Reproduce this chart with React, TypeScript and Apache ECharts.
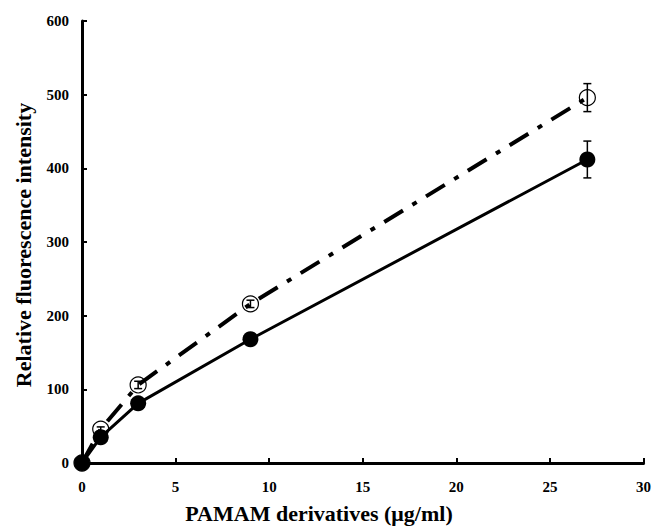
import React, { useEffect, useRef } from "react";
import * as echarts from "echarts";

const concentrations = [0, 1, 3, 9, 27];
const filledValues = [0, 35, 81, 168, 412];
const filledErrors = [0, 3, 3, 3, 25];
const openValues = [0, 46, 106, 216, 496];
const openErrors = [0, 3, 5, 5, 19];
const xTicks = [0, 5, 10, 15, 20, 25, 30];
const yTicks = [0, 100, 200, 300, 400, 500, 600];
const xTitle = "PAMAM derivatives (μg/ml)";
const yTitle = "Relative fluorescence intensity";

const FONT = "'Liberation Serif', 'Times New Roman', serif";

function errorSeries(values: number[], errors: number[], z: number) {
  const data = concentrations.map((x, i) => [x, values[i] - errors[i], values[i] + errors[i]]);
  return {
    type: "custom",
    z,
    silent: true,
    data,
    renderItem: (params: any, api: any) => {
      if (api.value(2) - api.value(1) <= 0) return null;
      const lo = api.coord([api.value(0), api.value(1)]);
      const hi = api.coord([api.value(0), api.value(2)]);
      const w = 4;
      const style = { stroke: "#000", lineWidth: 1.5, fill: "none" };
      return {
        type: "group",
        children: [
          { type: "line", shape: { x1: lo[0], y1: lo[1], x2: hi[0], y2: hi[1] }, style },
          { type: "line", shape: { x1: lo[0] - w, y1: lo[1], x2: lo[0] + w, y2: lo[1] }, style },
          { type: "line", shape: { x1: hi[0] - w, y1: hi[1], x2: hi[0] + w, y2: hi[1] }, style },
        ],
      };
    },
  };
}

export default function App() {
  const ref = useRef<HTMLDivElement>(null);
  useEffect(() => {
    if (!ref.current) return;
    const chart = echarts.init(ref.current, null, { renderer: "svg" });
    const labelStyle = { color: "#000", fontFamily: FONT, fontWeight: "bold" as const, fontSize: 15 };
    const titleStyle = { fill: "#000", fontFamily: FONT, fontWeight: "bold", fontSize: 22 };
    chart.setOption({
      animation: false,
      backgroundColor: "#fff",
      grid: { left: 82, top: 21, right: 7, bottom: 64, containLabel: false },
      graphic: [
        {
          type: "text",
          x: 319,
          y: 513,
          style: { ...titleStyle, text: xTitle, align: "center", verticalAlign: "middle" },
        },
        {
          type: "text",
          x: 23,
          y: 245,
          rotation: Math.PI / 2,
          style: { ...titleStyle, text: yTitle, align: "center", verticalAlign: "middle" },
        },
      ],
      xAxis: {
        type: "value",
        min: xTicks[0],
        max: xTicks[xTicks.length - 1],
        interval: 5,
        axisLine: { show: true, lineStyle: { color: "#000", width: 3 } },
        axisTick: { show: true, inside: true, length: 5, lineStyle: { color: "#000", width: 2 } },
        axisLabel: { ...labelStyle, margin: 16 },
        splitLine: { show: false },
      },
      yAxis: {
        type: "value",
        min: yTicks[0],
        max: yTicks[yTicks.length - 1],
        interval: 100,
        axisLine: { show: true, lineStyle: { color: "#000", width: 3 } },
        axisTick: { show: true, inside: true, length: 5, lineStyle: { color: "#000", width: 2 } },
        axisLabel: { ...labelStyle, margin: 13 },
        splitLine: { show: false },
      },
      series: [
        {
          type: "line",
          name: "open",
          z: 2,
          data: concentrations.map((x, i) => [x, openValues[i]]),
          symbol: "circle",
          symbolSize: 16,
          itemStyle: { color: "rgba(255,255,255,0)", borderColor: "#000", borderWidth: 1.2 },
          lineStyle: { color: "#000", width: 4, type: [22, 11, 5, 11] },
        },
        errorSeries(openValues, openErrors, 3),
        {
          type: "line",
          name: "filled",
          z: 4,
          data: concentrations.map((x, i) => [x, filledValues[i]]),
          symbol: "circle",
          symbolSize: 16,
          itemStyle: { color: "#000", borderColor: "#000", borderWidth: 0 },
          lineStyle: { color: "#000", width: 3, type: "solid" },
        },
        errorSeries(filledValues, filledErrors, 5),
      ],
    });
    return () => chart.dispose();
  }, []);
  return <div ref={ref} style={{ width: 654, height: 527, position: "absolute", left: 0, top: 0 }} />;
}
